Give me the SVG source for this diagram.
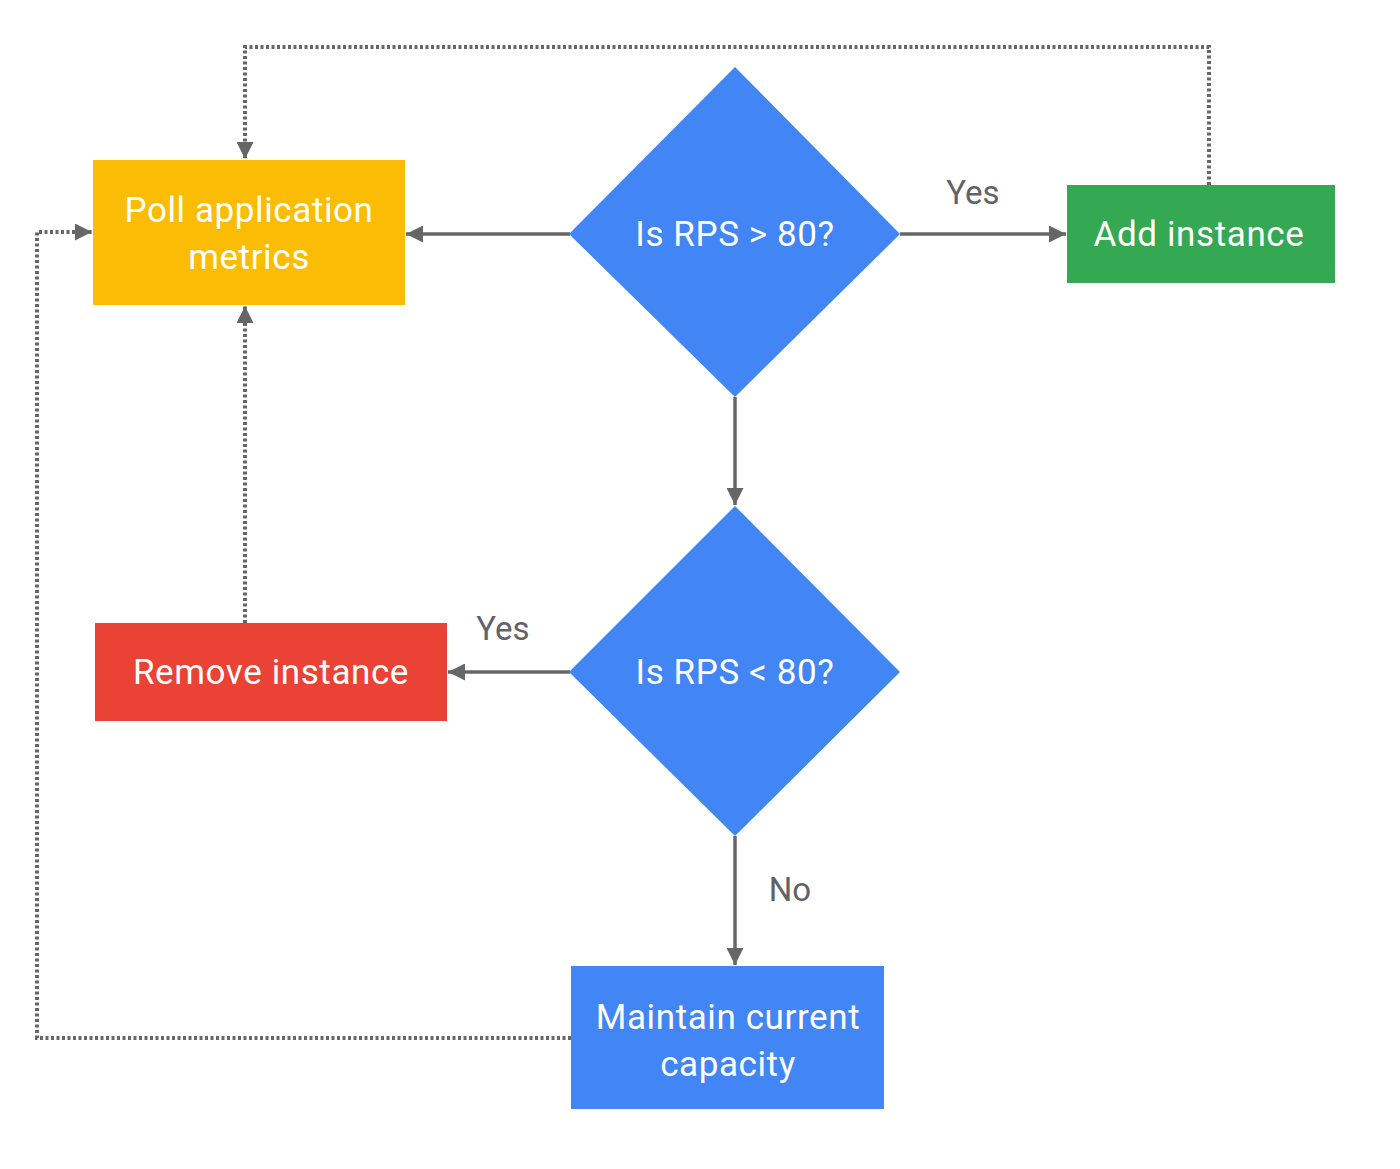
<svg xmlns="http://www.w3.org/2000/svg" width="1400" height="1169" viewBox="0 0 1400 1169">
<style>
.lbl{font-family:Roboto,"Open Sans","Liberation Sans",sans-serif;font-size:35px;letter-spacing:0.6px;fill:#ffffff;text-anchor:middle}
.edge{font-family:Roboto,"Open Sans","Liberation Sans",sans-serif;font-size:33px;fill:#5f6368;text-anchor:middle}
.solid{stroke:#666666;stroke-width:3.5;fill:none}
.dot{stroke:#666666;stroke-width:4;fill:none;stroke-dasharray:3 2.5}
</style>
<defs>
<marker id="ah" viewBox="0 0 10 10" refX="10" refY="5" markerWidth="17" markerHeight="17" markerUnits="userSpaceOnUse" orient="auto">
<path d="M0,0 L10,5 L0,10 Z" fill="#666666"/>
</marker>
</defs>
<rect width="1400" height="1169" fill="#ffffff"/>
<g id="connectors">
<line class="solid" x1="570" y1="234" x2="406" y2="234" marker-end="url(#ah)"/>
<line class="solid" x1="900" y1="234" x2="1066" y2="234" marker-end="url(#ah)"/>
<line class="solid" x1="735" y1="397" x2="735" y2="505" marker-end="url(#ah)"/>
<line class="solid" x1="570" y1="672" x2="448" y2="672" marker-end="url(#ah)"/>
<line class="solid" x1="735" y1="836" x2="735" y2="965" marker-end="url(#ah)"/>
<polyline class="dot" points="1209,185 1209,47 245,47 245,159" marker-end="url(#ah)"/>
<line class="dot" x1="245" y1="623" x2="245" y2="306" marker-end="url(#ah)"/>
<polyline class="dot" points="571,1038 37,1038 37,232 92,232" marker-end="url(#ah)"/>
<text class="edge" x="973" y="204">Yes</text>
<text class="edge" x="503" y="640">Yes</text>
<text class="edge" x="790" y="901">No</text>
</g>
<g id="poll">
<rect x="93" y="160" width="312" height="145" fill="#FBBC05"/>
<text class="lbl" x="249" y="222">Poll application</text>
<text class="lbl" x="249" y="269">metrics</text>
</g>
<g id="decision1">
<polygon points="735,67 900,234 735,397 569,234" fill="#4285F4"/>
<text class="lbl" x="735" y="246">Is RPS &gt; 80?</text>
</g>
<g id="add">
<rect x="1067" y="185" width="268" height="98" fill="#34A853"/>
<text class="lbl" x="1199" y="246">Add instance</text>
</g>
<g id="decision2">
<polygon points="735,506 900,672 735,836 569,672" fill="#4285F4"/>
<text class="lbl" x="735" y="684">Is RPS &lt; 80?</text>
</g>
<g id="remove">
<rect x="95" y="623" width="352" height="98" fill="#EA4335"/>
<text class="lbl" x="271" y="684">Remove instance</text>
</g>
<g id="maintain">
<rect x="571" y="966" width="313" height="143" fill="#4285F4"/>
<text class="lbl" x="728" y="1029">Maintain current</text>
<text class="lbl" x="728" y="1076">capacity</text>
</g>
</svg>
